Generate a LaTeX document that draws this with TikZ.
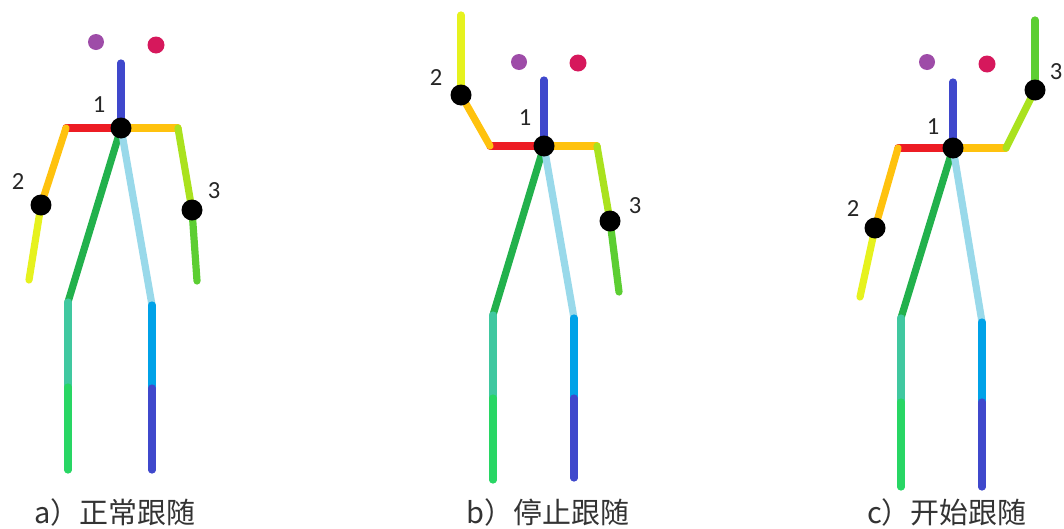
\documentclass[tikz,border=0pt]{standalone}
\usepackage{fontspec}
\setmainfont{Carlito}
\newfontfamily\cjk{Noto Sans CJK SC}
\usepackage{xcolor}

% joint colours
\definecolor{eyeL}{RGB}{158,76,168}
\definecolor{eyeR}{RGB}{214,24,92}
\definecolor{neckB}{RGB}{63,72,204}
\definecolor{shRed}{RGB}{237,28,36}
\definecolor{armO}{RGB}{255,194,14}
\definecolor{wrY}{RGB}{230,242,30}
\definecolor{armLime}{RGB}{170,226,30}
\definecolor{wrG}{RGB}{92,206,50}
\definecolor{torsoG}{RGB}{34,177,76}
\definecolor{torsoB}{RGB}{153,217,234}
\definecolor{thighT}{RGB}{64,200,160}
\definecolor{shinG}{RGB}{40,214,100}
\definecolor{thighB}{RGB}{0,162,232}
\definecolor{shinB}{RGB}{63,72,204}

\begin{document}
\begin{tikzpicture}[x=0.02cm, y=-0.02cm,
  bone/.style={line width=4.1pt, line cap=round},
  num/.style={font=\fontsize{14}{16}\selectfont, text=black!85},
  caption/.style={font=\cjk\fontsize{16.5}{19}\selectfont, text=black!80}]
\useasboundingbox (0,0) rectangle (1064,528);

% a) skeleton
\coordinate (a-eyeL) at (96,42);
\coordinate (a-eyeR) at (156,45);
\coordinate (a-head) at (121,63);
\coordinate (a-neck) at (121,128);
\coordinate (a-shR) at (66,128);
\coordinate (a-elR) at (41,205);
\coordinate (a-wrR) at (29,280);
\coordinate (a-shL) at (178,128);
\coordinate (a-elL) at (192,210);
\coordinate (a-wrL) at (197,281);
\coordinate (a-hipR) at (68,302);
\coordinate (a-kneeR) at (68,387);
\coordinate (a-ankR) at (68,470);
\coordinate (a-hipL) at (152,305);
\coordinate (a-kneeL) at (152,388);
\coordinate (a-ankL) at (152,470);

% b) skeleton
\coordinate (b-eyeL) at (519,62);
\coordinate (b-eyeR) at (578,63);
\coordinate (b-head) at (544,80);
\coordinate (b-neck) at (544,146);
\coordinate (b-shR) at (490,146);
\coordinate (b-elR) at (461,95);
\coordinate (b-wrR) at (461,15);
\coordinate (b-shL) at (597,146);
\coordinate (b-elL) at (610,221);
\coordinate (b-wrL) at (619,292);
\coordinate (b-hipR) at (493,315);
\coordinate (b-kneeR) at (493,398);
\coordinate (b-ankR) at (493,480);
\coordinate (b-hipL) at (574,318);
\coordinate (b-kneeL) at (574,398);
\coordinate (b-ankL) at (574,478);

% c) skeleton
\coordinate (c-eyeL) at (927,62);
\coordinate (c-eyeR) at (987,64);
\coordinate (c-head) at (953,82);
\coordinate (c-neck) at (953,148);
\coordinate (c-shR) at (898,148);
\coordinate (c-elR) at (875,228);
\coordinate (c-wrR) at (860,297);
\coordinate (c-shL) at (1006,148);
\coordinate (c-elL) at (1035,90);
\coordinate (c-wrL) at (1035,20);
\coordinate (c-hipR) at (901,318);
\coordinate (c-kneeR) at (901,402);
\coordinate (c-ankR) at (901,487);
\coordinate (c-hipL) at (982,322);
\coordinate (c-kneeL) at (982,402);
\coordinate (c-ankL) at (982,487);

\foreach \f in {a,b,c}{
  \fill[eyeL] (\f-eyeL) circle (0.16cm);
  \fill[eyeR] (\f-eyeR) circle (0.17cm);
  \draw[bone,neckB] (\f-head) -- (\f-neck);
  \draw[bone,shRed] (\f-shR) -- (\f-neck);
  \draw[bone,armO] (\f-neck) -- (\f-shL);
  \draw[bone,armO] (\f-shR) -- (\f-elR);
  \draw[bone,wrY] (\f-elR) -- (\f-wrR);
  \draw[bone,armLime] (\f-shL) -- (\f-elL);
  \draw[bone,wrG] (\f-elL) -- (\f-wrL);
  \draw[bone,torsoG] (\f-neck) -- (\f-hipR);
  \draw[bone,torsoB] (\f-neck) -- (\f-hipL);
  \draw[bone,thighT] (\f-hipR) -- (\f-kneeR);
  \draw[bone,shinG] (\f-kneeR) -- (\f-ankR);
  \draw[bone,thighB] (\f-hipL) -- (\f-kneeL);
  \draw[bone,shinB] (\f-kneeL) -- (\f-ankL);
  % tracked joints
  \fill (\f-neck) circle (0.21cm);
  \fill (\f-elR) circle (0.21cm);
  \fill (\f-elL) circle (0.21cm);
}

\node[num] (a-n1) at (99,105) {1};
\node[num] (a-n2) at (18,182) {2};
\node[num] (a-n3) at (214,191) {3};
\node[num] (b-n1) at (525,118) {1};
\node[num] (b-n2) at (436,78) {2};
\node[num] (b-n3) at (635,206) {3};
\node[num] (c-n1) at (933,127) {1};
\node[num] (c-n2) at (853,209) {2};
\node[num] (c-n3) at (1056,72) {3};

\node[caption] (a-cap) at (115,512) {a）正常跟随};
\node[caption] (b-cap) at (548,512) {b）停止跟随};
\node[caption] (c-cap) at (947,512) {c）开始跟随};
\end{tikzpicture}
\end{document}
